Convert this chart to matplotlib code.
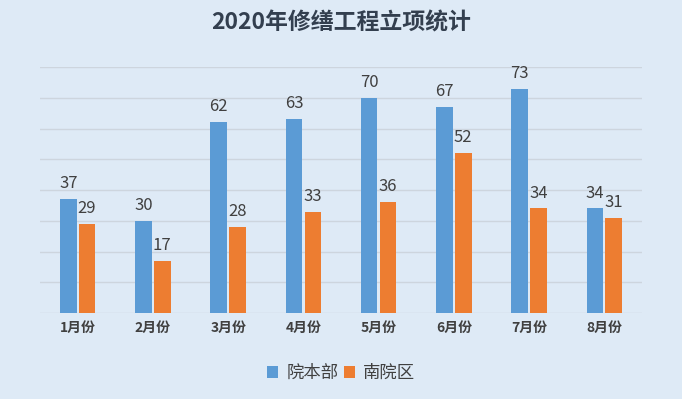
import matplotlib.pyplot as plt
import numpy as np

plt.rcParams['font.family'] = ['Noto Sans CJK SC', 'DejaVu Sans']

months = ['1月份', '2月份', '3月份', '4月份', '5月份', '6月份', '7月份', '8月份']
main_campus = [37, 30, 62, 63, 70, 67, 73, 34]
south_campus = [29, 17, 28, 33, 36, 52, 34, 31]
series_names = ['院本部', '南院区']

bg = '#deeaf6'
blue = '#5b9bd5'
orange = '#ed7d31'
text_color = '#404040'

fig = plt.figure(figsize=(6.82, 3.99), dpi=100, facecolor=bg)
ax = fig.add_axes([0.0587, 0.2155, 0.8826, 0.6165], facecolor=bg)

x = np.arange(len(months))
w = 0.22
off = 0.125
b1 = ax.bar(x - off, main_campus, w, color=blue, label=series_names[0], zorder=3)
b2 = ax.bar(x + off, south_campus, w, color=orange, label=series_names[1], zorder=3)

for bars in (b1, b2):
    for rect in bars:
        ax.annotate(f'{int(rect.get_height())}',
                    (rect.get_x() + rect.get_width() / 2, rect.get_height()),
                    xytext=(0, 5), textcoords='offset points',
                    ha='center', va='bottom', fontsize=12, color=text_color)

ax.set_xlim(-0.5, len(months) - 0.5)
ax.set_ylim(0, 80)
ax.set_yticks(np.arange(0, 81, 10))
ax.set_yticklabels([])
ax.tick_params(axis='y', length=0)
ax.tick_params(axis='x', length=0, pad=6)
ax.set_xticks(x)
ax.set_xticklabels(months, fontsize=10, fontweight='bold', color=text_color)
ax.grid(axis='y', color='#cdd5de', linewidth=1, zorder=0)
for s in ax.spines.values():
    s.set_visible(False)

fig.suptitle('2020年修缮工程立项统计', y=0.97, fontsize=16.5, fontweight='bold', color='#333f4f')

fig.legend(loc='center', bbox_to_anchor=(0.5, 0.065), ncol=2, frameon=False,
           fontsize=12.5, handlelength=0.65, handleheight=0.65, columnspacing=0.3,
           handletextpad=0.45, labelcolor=text_color)

fig.savefig('out.png', dpi=100, facecolor=bg)
